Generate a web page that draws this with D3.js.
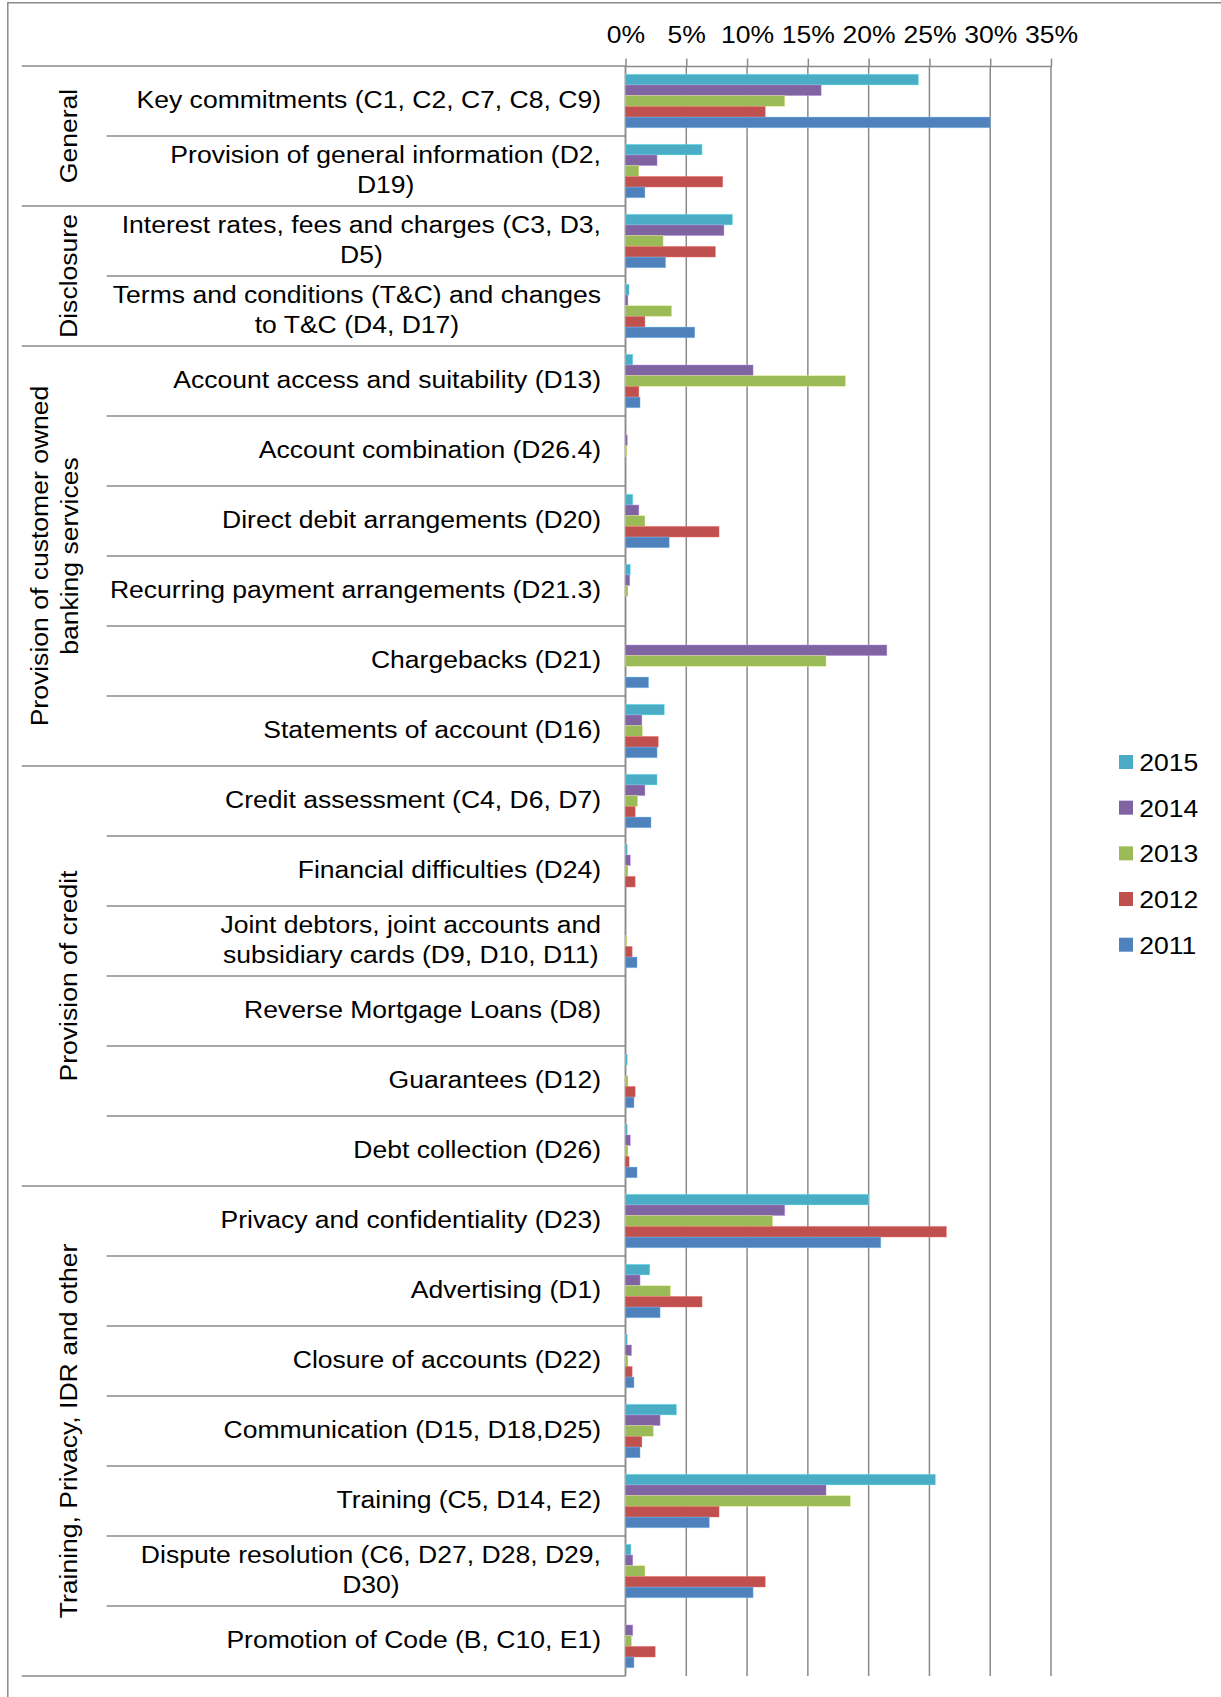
<!DOCTYPE html>
<html>
<head>
<meta charset="utf-8">
<script src="https://cdn.jsdelivr.net/npm/d3@7"></script>
<style>
  html, body { margin: 0; padding: 0; background: #fff; }
  svg { display: block; font-family: "Liberation Sans", Arial, sans-serif; }
</style>
</head>
<body>
<svg id="chart" width="1221" height="1697"></svg>
<script>
// Category labels ("\n" marks a line break)
const categories = [
  "Key commitments (C1, C2, C7, C8, C9)",
  "Provision of general information (D2,\nD19)",
  "Interest rates, fees and charges (C3, D3,\nD5)",
  "Terms and conditions (T&C) and changes\nto T&C (D4, D17)",
  "Account access and suitability (D13)",
  "Account combination (D26.4)",
  "Direct debit arrangements (D20)",
  "Recurring payment arrangements (D21.3)",
  "Chargebacks (D21)",
  "Statements of account (D16)",
  "Credit assessment (C4, D6, D7)",
  "Financial difficulties (D24)",
  "Joint debtors, joint accounts and\nsubsidiary cards (D9, D10, D11)",
  "Reverse Mortgage Loans (D8)",
  "Guarantees (D12)",
  "Debt collection (D26)",
  "Privacy and confidentiality (D23)",
  "Advertising (D1)",
  "Closure of accounts (D22)",
  "Communication (D15, D18,D25)",
  "Training (C5, D14, E2)",
  "Dispute resolution (C6, D27, D28, D29,\nD30)",
  "Promotion of Code (B, C10, E1)"
];

// Outer grouping of the categories
const groupNames = [
  "General",
  "Disclosure",
  "Provision of customer owned\nbanking services",
  "Provision of credit",
  "Training, Privacy, IDR and other"
];
const groupSizes = [2, 2, 6, 6, 7];

// Share of breaches (%) per year
const v2015 = [24.1, 6.3, 8.8, 0.3, 0.6, 0, 0.6, 0.4, 0, 3.2, 2.6, 0.15, 0, 0, 0.15, 0.15, 20.0, 2.0, 0.15, 4.2, 25.5, 0.45, 0];
const v2014 = [16.1, 2.6, 8.1, 0.2, 10.5, 0.15, 1.1, 0.35, 21.5, 1.35, 1.6, 0.4, 0, 0, 0, 0.4, 13.1, 1.2, 0.5, 2.85, 16.5, 0.6, 0.6];
const v2013 = [13.1, 1.1, 3.1, 3.8, 18.1, 0.1, 1.6, 0.2, 16.5, 1.4, 1.0, 0.2, 0.1, 0, 0.2, 0.2, 12.1, 3.7, 0.2, 2.3, 18.5, 1.6, 0.5];
const v2012 = [11.5, 8.0, 7.4, 1.6, 1.1, 0, 7.7, 0, 0, 2.7, 0.8, 0.8, 0.55, 0, 0.8, 0.3, 26.4, 6.3, 0.55, 1.35, 7.7, 11.5, 2.45];
const v2011 = [30.0, 1.6, 3.3, 5.7, 1.2, 0, 3.6, 0, 1.9, 2.6, 2.1, 0, 0.95, 0, 0.7, 0.95, 21.0, 2.85, 0.7, 1.2, 6.9, 10.5, 0.7];

const years = ["2015", "2014", "2013", "2012", "2011"];
const seriesValues = [v2015, v2014, v2013, v2012, v2011];
const seriesColors = ["#4BACC6", "#8064A2", "#9BBB59", "#C0504D", "#4F81BD"];

const tickValues = [0, 5, 10, 15, 20, 25, 30, 35];

// ---- layout ----
const FS = 24.7;      // font size
const SX = 1.075;     // stretch along the reading direction
const LINE = "#8a8a8a";
const plotLeft = 625.5, plotRight = 1051, plotTop = 66, plotBottom = 1676;
const labelRight = 601;
const outerLineX = 21.8, innerLineX = 106.7;

const svg = d3.select("#chart");

const x = d3.scaleLinear().domain([0, 35]).range([plotLeft, plotRight]);
const y0 = d3.scaleBand().domain(categories).range([plotTop, plotBottom]).paddingInner(0).paddingOuter(0);
const y1 = d3.scaleBand().domain(years).range([0, y0.bandwidth()]).paddingInner(0).paddingOuter(0.77);
const color = d3.scaleOrdinal().domain(years).range(seriesColors);

function stretchedText(parent, tx, ty, txt, anchor, rotated) {
  return parent.append("text")
    .attr("transform", `translate(${tx},${ty})` + (rotated ? " rotate(-90)" : "") + ` scale(${SX},1)`)
    .attr("text-anchor", anchor)
    .attr("font-size", FS)
    .attr("fill", "#000")
    .text(txt);
}

// chart frame
svg.append("path")
  .attr("d", "M7.8,1697V2.7H1221")
  .attr("fill", "none").attr("stroke", LINE).attr("stroke-width", 1.5);

// vertical gridlines
svg.append("g").selectAll("line").data(tickValues).join("line")
  .attr("x1", d => x(d)).attr("x2", d => x(d))
  .attr("y1", plotTop).attr("y2", plotBottom)
  .attr("stroke", LINE).attr("stroke-width", 1.5);

// value axis on top
const xAxis = d3.axisTop(x).tickValues(tickValues).tickFormat(d => d + "%")
  .tickSize(7.5).tickSizeOuter(0).tickPadding(15.5);
const gx = svg.append("g").attr("transform", `translate(0,${plotTop})`).call(xAxis);
gx.select(".domain").attr("stroke", LINE).attr("stroke-width", 1.5);
gx.selectAll(".tick line").attr("stroke", LINE).attr("stroke-width", 1.5);
gx.selectAll(".tick text")
  .attr("font-size", FS)
  .attr("font-family", '"Liberation Sans", Arial, sans-serif')
  .attr("fill", "#000")
  .attr("transform", `scale(${SX},1)`);

// category axis line
svg.append("line")
  .attr("x1", plotLeft).attr("x2", plotLeft)
  .attr("y1", plotTop).attr("y2", plotBottom)
  .attr("stroke", LINE).attr("stroke-width", 1.5);

// row and group separators
const groupStarts = new Set();
{
  let acc = 0;
  groupSizes.forEach(s => { groupStarts.add(acc); acc += s; });
  groupStarts.add(acc);
}
const boundaries = d3.range(categories.length + 1);
svg.append("g").selectAll("line").data(boundaries).join("line")
  .attr("x1", k => groupStarts.has(k) ? outerLineX : innerLineX)
  .attr("x2", plotLeft)
  .attr("y1", k => k < categories.length ? y0(categories[k]) : y0.range()[1])
  .attr("y2", k => k < categories.length ? y0(categories[k]) : y0.range()[1])
  .attr("stroke", LINE).attr("stroke-width", 1.5);

// bars
const rows = svg.append("g").selectAll("g").data(categories).join("g")
  .attr("transform", c => `translate(0,${y0(c)})`);
rows.selectAll("rect")
  .data((c, i) => years.map((yr, s) => ({ year: yr, value: seriesValues[s][i] })).filter(d => d.value > 0))
  .join("rect")
  .attr("x", x(0))
  .attr("y", d => y1(d.year))
  .attr("width", d => x(d.value) - x(0))
  .attr("height", y1.bandwidth())
  .attr("fill", d => color(d.year))
  .attr("stroke", d => d3.color(color(d.year)).brighter(1.3))
  .attr("stroke-opacity", 0.45)
  .attr("stroke-width", 0.8);

// category labels
const labelLayer = svg.append("g");
categories.forEach(c => {
  const lines = c.split("\n");
  const mid = y0(c) + y0.bandwidth() / 2;
  if (lines.length === 1) {
    stretchedText(labelLayer, labelRight, mid + 7.3, lines[0], "end", false);
  } else {
    const first = stretchedText(labelLayer, labelRight, mid - 7.8, lines[0], "end", false);
    const w = first.node().getComputedTextLength() * SX;
    stretchedText(labelLayer, labelRight - w / 2, mid + 22.2, lines[1], "middle", false);
  }
});

// group labels (rotated)
{
  let acc = 0;
  groupNames.forEach((g, gi) => {
    const a = categories[acc];
    const b = categories[acc + groupSizes[gi] - 1];
    const cy = (y0(a) + y0(b) + y0.bandwidth()) / 2;
    const lines = g.split("\n");
    if (lines.length === 1) {
      stretchedText(labelLayer, 77, cy, lines[0], "middle", true);
    } else {
      stretchedText(labelLayer, 47.5, cy, lines[0], "middle", true);
      stretchedText(labelLayer, 77.5, cy, lines[1], "middle", true);
    }
    acc += groupSizes[gi];
  });
}

// legend
const legend = svg.append("g");
const legendY = d3.scaleLinear().domain([0, years.length - 1]).range([762, 944.7]);
years.forEach((yr, i) => {
  const cy = legendY(i);
  legend.append("rect")
    .attr("x", 1119).attr("y", cy - 7).attr("width", 14).attr("height", 14)
    .attr("fill", color(yr));
  stretchedText(legend, 1139.3, cy + 9, yr, "start", false);
});
</script>
</body>
</html>
